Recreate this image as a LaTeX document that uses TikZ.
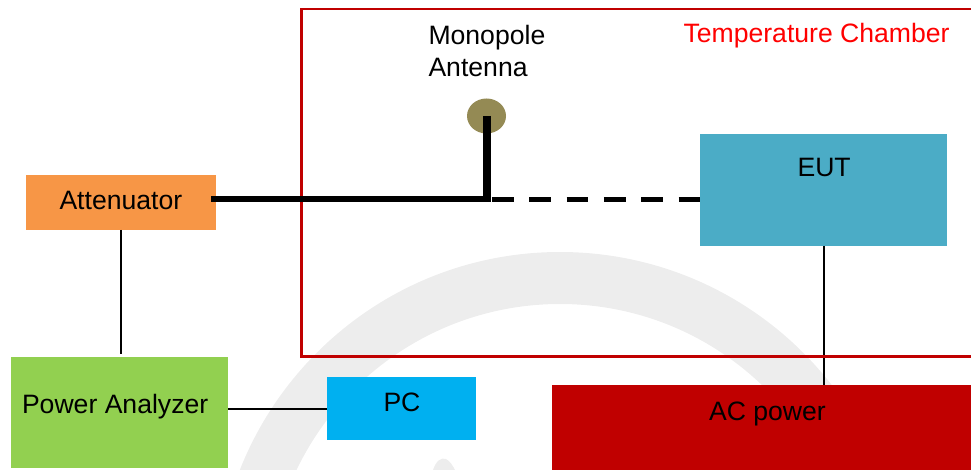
\documentclass[tikz,border=0pt]{standalone}
\usepackage{fontspec}
\usetikzlibrary{shapes.geometric}
\setmainfont{Liberation Sans}
\definecolor{chamberred}{HTML}{C00000}
\definecolor{wmgray}{HTML}{EDEDED}
\definecolor{attfill}{HTML}{F79646}
\definecolor{eutfill}{HTML}{4BACC6}
\definecolor{pafill}{HTML}{92D050}
\definecolor{pcfill}{HTML}{00B0F0}
\definecolor{antfill}{HTML}{948A54}
\begin{document}
\begin{tikzpicture}[x=1pt,y=-1pt,
  box/.style={draw=none,inner sep=0pt,outer sep=0pt,minimum width=#1},
  lbl/.style={inner sep=0pt,outer sep=0pt,anchor=base west,font=\fontsize{26.6}{30}\selectfont,text=black},
  thinwire/.style={draw=black,line width=2pt},
  feedwire/.style={draw=black,line width=5.5pt},
  mastwire/.style={draw=black,line width=7.5pt}]
\useasboundingbox (0,0) rectangle (971,470);
\begin{scope}
\clip (0,0) rectangle (971,470);
% watermark
\fill[wmgray,even odd rule] (560,596) circle[radius=344] (560,596) circle[radius=292];
\fill[wmgray] (433,470) .. controls (436,461) and (441,457) .. (446,459) .. controls (450,461) and (453,466) .. (455,470) -- cycle;
% boxes
\node[box=190pt,minimum height=55pt,fill=attfill] (att) at (121,202.5) {};
\node[box=247pt,minimum height=112pt,fill=eutfill] (eut) at (823.5,190) {};
\node[box=217pt,minimum height=111pt,fill=pafill] (pa) at (119.5,412.5) {};
\node[box=149pt,minimum height=63pt,fill=pcfill] (pc) at (401.5,408.5) {};
\node[box=419pt,minimum height=85pt,fill=chamberred] (ac) at (761.5,427.5) {};
\node[draw=none,fill=antfill,ellipse,inner sep=0pt,minimum width=39pt,minimum height=35pt] (ant) at (486.5,116) {};
% coordinates
\coordinate (paend) at (121,354);
\coordinate (feedstart) at (211,199);
\coordinate (feedcorner) at (487,199);
\coordinate (anttip) at (487,116);
\coordinate (dashstart) at (492,199.7);
\coordinate (dashend) at (700,199.7);
\coordinate (chNW) at (301.5,9);
\coordinate (chNE) at (980,9);
\coordinate (chSE) at (980,356.5);
\coordinate (chSW) at (301.5,356.5);
% connectors
\draw[thinwire] (eut.south) -- (ac.north -| eut.south);
\draw[draw=chamberred,line width=2.6pt] (chNE) -- (chNW) -- (chSW) -- (chSE);
\draw[thinwire] (att.south) -- (paend);
\draw[thinwire] (pa.east |- pc.west) -- (pc.west);
\draw[feedwire] (feedstart) -- (feedcorner);
\draw[mastwire] (anttip) -- ([yshift=-2.7pt]feedcorner);
\draw[feedwire,dash pattern=on 21.6pt off 15.7pt] (dashstart) -- (dashend);
% labels
\node[lbl] (tAtt) at (59.5,210) {Attenuator};
\node[lbl] (tMono) at (428.5,45) {Monopole};
\node[lbl] (tAnt) at (428.5,77) {Antenna};
\node[lbl,text=red] (tCh) at (683.5,43) {Temperature Chamber};
\node[lbl] (tEut) at (797.5,177) {EUT};
\node[lbl] (tPa) at (22,413) {Power Analyzer};
\node[lbl] (tPc) at (383.5,411) {PC};
\node[lbl] (tAc) at (709,420) {AC power};
\end{scope}
\end{tikzpicture}
\end{document}
